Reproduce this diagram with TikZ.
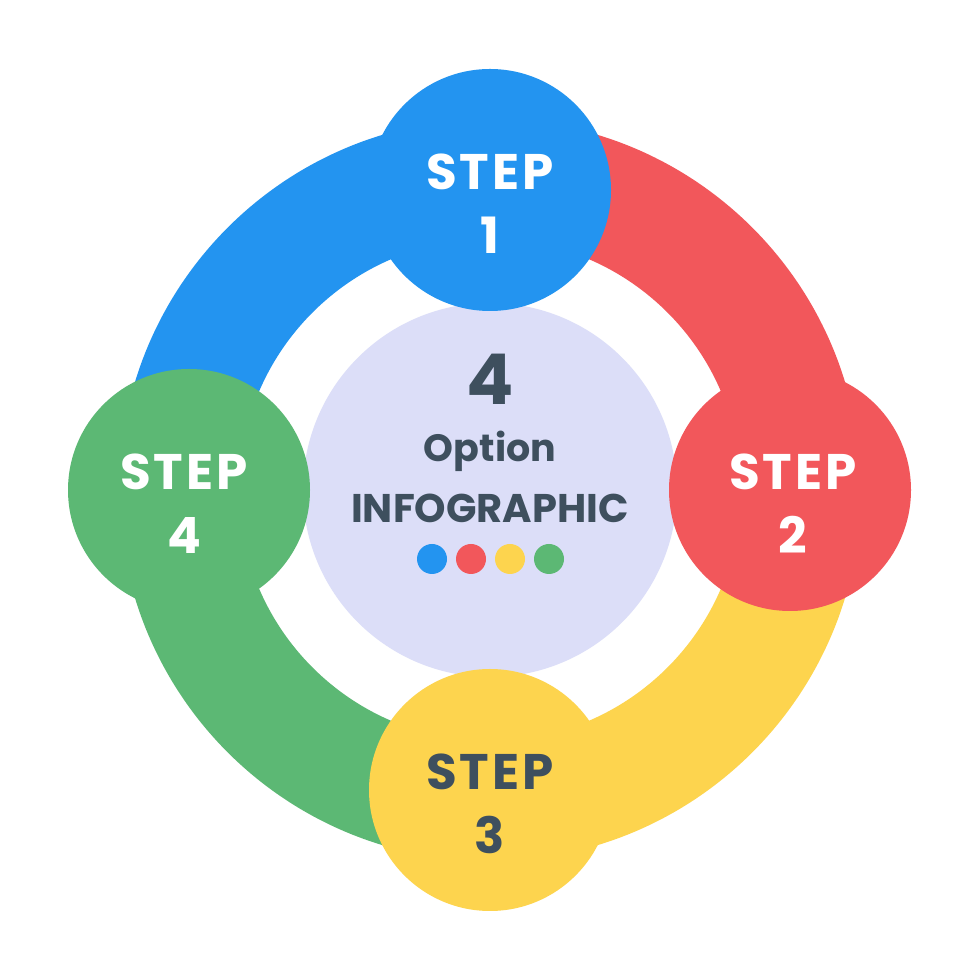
\documentclass[tikz,border=0pt]{standalone}
\usepackage{fontspec}
\setmainfont{Poppins}
\newfontfamily\stepfont{Poppins}[LetterSpace=6]
\usetikzlibrary{calc}
\definecolor{cblue}{HTML}{2394F0}
\definecolor{cred}{HTML}{F2575B}
\definecolor{cyellow}{HTML}{FDD44E}
\definecolor{cgreen}{HTML}{5CB874}
\definecolor{clav}{HTML}{DCDEF8}
\definecolor{cdark}{HTML}{3E4F5E}
\begin{document}
\begin{tikzpicture}[x=0.5pt,y=0.5pt,
  band/.style={line width=60pt},
  stepdisc/.style={circle, minimum size=121pt, inner sep=0pt},
  steplbl/.style={anchor=base, inner sep=0pt, font=\stepfont\fontsize{25}{30}\selectfont\bfseries},
  dot/.style={circle, minimum size=15pt, inner sep=0pt},
  ctext/.style={anchor=base, inner sep=0pt, text=cdark}]
\useasboundingbox (0,0) rectangle (980,980);
\fill[white] (0,0) rectangle (980,980);
\coordinate (c) at (490,490);
% ring
\draw[band, cblue]   ($(c)+(180:311)$) arc[start angle=180, end angle=90, radius=311];
\draw[band, cred]    ($(c)+(90:311)$) arc[start angle=90, end angle=0, radius=311];
\draw[band, cyellow] ($(c)+(0:311)$) arc[start angle=0, end angle=-90, radius=311];
\draw[band, cgreen]  ($(c)+(-90:311)$) arc[start angle=-90, end angle=-180, radius=311];
% centre disc
\node[circle, minimum size=187pt, inner sep=0pt, fill=clav] (hub) at (c) {};
% step discs
\node[stepdisc, fill=cblue]   (s1) at (490,790) {};
\node[stepdisc, fill=cred]    (s2) at (790,490) {};
\node[stepdisc, fill=cyellow] (s3) at (490,190) {};
\node[stepdisc, fill=cgreen]  (s4) at (189,490) {};
% step labels
\node[steplbl, text=white] (l1) at ($(s1.center)+(0,0)$) {STEP};
\node[steplbl, text=white] (n1) at ($(s1.center)+(0,-64)$) {1};
\node[steplbl, text=white] (l2) at ($(s2.center)+(3,0)$) {STEP};
\node[steplbl, text=white] (n2) at ($(s2.center)+(3,-64)$) {2};
\node[steplbl, text=cdark] (l3) at ($(s3.center)+(0,0)$) {STEP};
\node[steplbl, text=cdark] (n3) at ($(s3.center)+(0,-64)$) {3};
\node[steplbl, text=white] (l4) at ($(s4.center)+(-5,0)$) {STEP};
\node[steplbl, text=white] (n4) at ($(s4.center)+(-5,-64)$) {4};
% centre text
\node[ctext, font=\fontsize{35}{40}\selectfont\bfseries] (big) at (490,575) {4};
\node[ctext, font=\fontsize{19}{22}\selectfont\bfseries] (opt) at (490,518) {Option};
\node[ctext, font=\fontsize{20}{24}\selectfont\bfseries] (info) at (490,457) {INFOGRAPHIC};
% dots
\node[dot, fill=cblue]   (d1) at (432,421) {};
\node[dot, fill=cred]    (d2) at (471,421) {};
\node[dot, fill=cyellow] (d3) at (510,421) {};
\node[dot, fill=cgreen]  (d4) at (549,421) {};
\end{tikzpicture}
\end{document}
